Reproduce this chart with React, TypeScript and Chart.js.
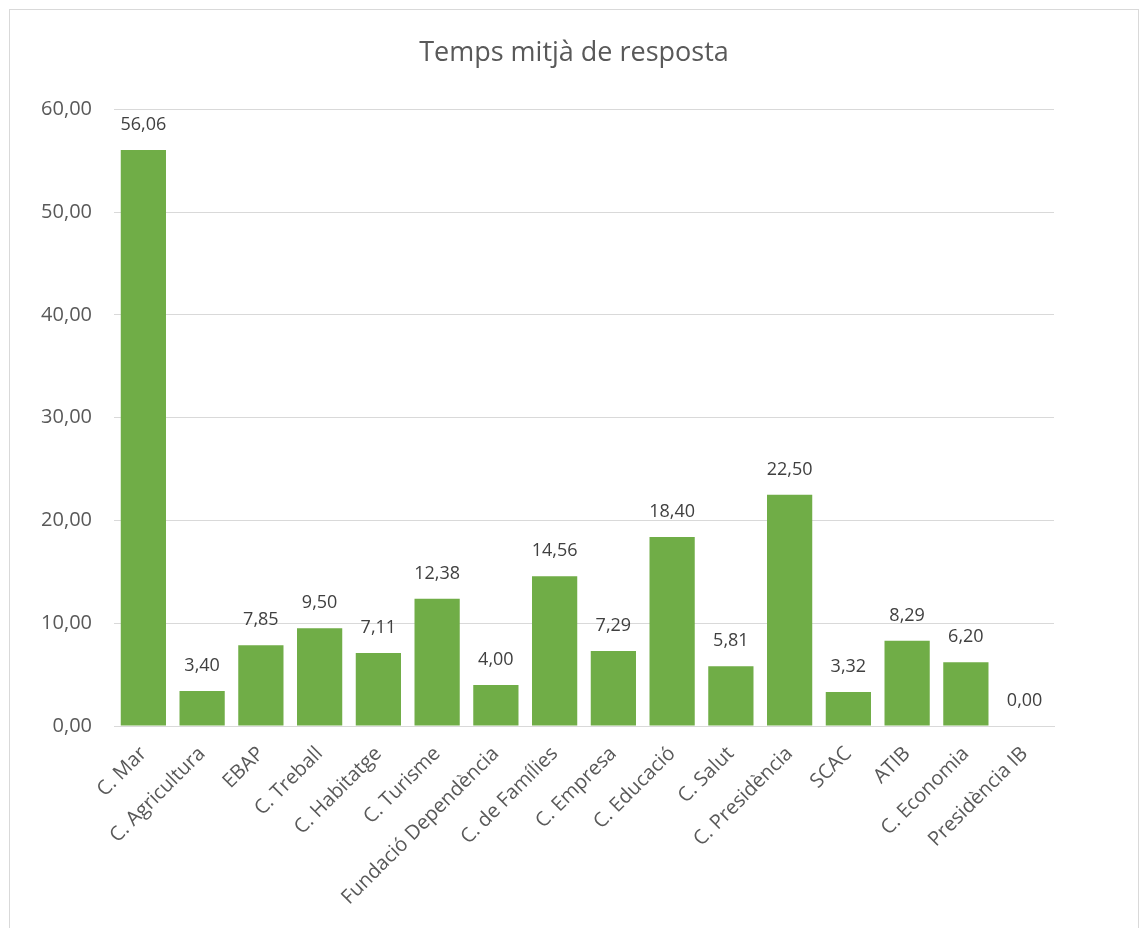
import React, { useEffect, useRef } from "react";
import { Chart, registerables } from "chart.js";

Chart.register(...registerables);

const categories = [
  "C. Mar",
  "C. Agricultura",
  "EBAP",
  "C. Treball",
  "C. Habitatge",
  "C. Turisme",
  "Fundació Dependència",
  "C. de Famílies",
  "C. Empresa",
  "C. Educació",
  "C. Salut",
  "C. Presidència",
  "SCAC",
  "ATIB",
  "C. Economia",
  "Presidència IB",
];

const values = [56.06, 3.4, 7.85, 9.5, 7.11, 12.38, 4.0, 14.56, 7.29, 18.4, 5.81, 22.5, 3.32, 8.29, 6.2, 0.0];

const title = "Temps mitjà de resposta";
const yMin = 0;
const yMax = 60;
const yStep = 10;

const FONT = "'Open Sans', 'Noto Sans', sans-serif";
const fmt = (v: number) => v.toFixed(2).replace(".", ",");

const valueLabels = {
  id: "valueLabels",
  afterDatasetsDraw(chart: any) {
    const ctx = chart.ctx;
    const meta = chart.getDatasetMeta(0);
    ctx.save();
    ctx.font = `18px ${FONT}`;
    ctx.fillStyle = "#404040";
    ctx.textAlign = "center";
    ctx.textBaseline = "middle";
    meta.data.forEach((bar: any, i: number) => {
      const v = chart.data.datasets[0].data[i];
      ctx.fillText(fmt(v), bar.x, bar.y - 25);
    });
    ctx.restore();
  },
};

export default function App() {
  const ref = useRef<HTMLCanvasElement>(null);
  useEffect(() => {
    if (!ref.current) return;
    const chart = new Chart(ref.current, {
      type: "bar",
      data: {
        labels: categories,
        datasets: [
          {
            data: values,
            backgroundColor: "#70ad47",
            barPercentage: 0.77,
            categoryPercentage: 1,
          },
        ],
      },
      options: {
        animation: false,
        responsive: true,
        maintainAspectRatio: false,
        layout: { padding: { left: 0, right: 0, top: 0, bottom: 0 } },
        plugins: {
          legend: { display: false },
          tooltip: { enabled: false },
          title: {
            display: true,
            text: title,
            color: "#595959",
            font: { family: FONT, size: 27, weight: "normal" },
            padding: { top: 27, bottom: 40 },
          },
        },
        scales: {
          x: {
            grid: { display: false, drawTicks: false },
            border: { display: true, color: "#d9d9d9", width: 1 },
            ticks: {
              color: "#595959",
              font: { family: FONT, size: 20 },
              minRotation: 45,
              maxRotation: 45,
              padding: 16,
              autoSkip: false,
            },
            afterFit: (s: any) => {
              s.height = 212;
            },
          },
          y: {
            min: yMin,
            max: yMax,
            grid: { color: "#d9d9d9", drawTicks: false },
            border: { display: false },
            ticks: {
              stepSize: yStep,
              color: "#595959",
              font: { family: FONT, size: 20 },
              padding: 22,
              callback: (v: any) => fmt(Number(v)),
            },
            afterFit: (s: any) => {
              s.width = 104;
            },
          },
          yRight: {
            position: "right",
            display: true,
            grid: { display: false, drawTicks: false },
            border: { display: false },
            ticks: { display: false },
            afterFit: (s: any) => {
              s.width = 84;
            },
          },
        },
      },
      plugins: [valueLabels],
    });
    return () => chart.destroy();
  }, []);

  return (
    <div
      style={{
        position: "fixed",
        left: 9,
        top: 9,
        width: 1130,
        height: 930,
        boxSizing: "border-box",
        border: "1px solid #d9d9d9",
        background: "#fff",
      }}
    >
      <canvas ref={ref} />
    </div>
  );
}
